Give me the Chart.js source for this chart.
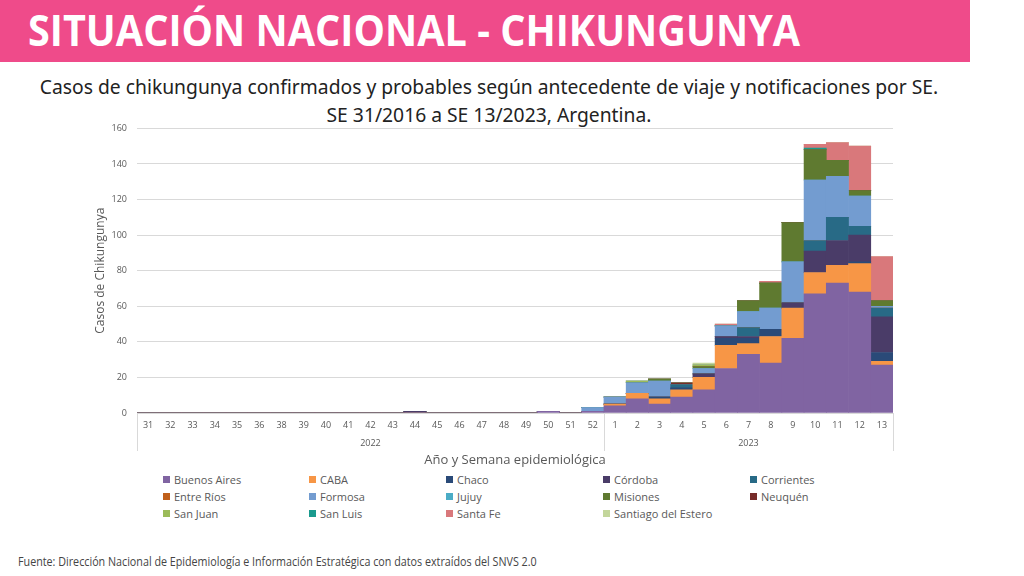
<!DOCTYPE html>
<html>
<head>
<meta charset="utf-8">
<script src="https://cdn.jsdelivr.net/npm/chart.js@4.4.0/dist/chart.umd.min.js"></script>
<style>
    body { margin: 0; width: 1024px; height: 576px; background: #fff; position: relative; overflow: hidden; font-family: "Open Sans", sans-serif; }
    .header { position: absolute; left: 0; top: 0; width: 970px; height: 62px; background: #ef4b8a; }
    .header h1 { margin: 0; position: absolute; left: 28px; top: 4px; color: #fff; font-family: "Open Sans", sans-serif; font-weight: 700; font-size: 43px; line-height: 52px; white-space: nowrap; transform-origin: 0 0; }
    .subtitle { position: absolute; left: 0; top: 73px; width: 978px; text-align: center; font-family: "Noto Sans", sans-serif; font-size: 19.3px; line-height: 28px; color: #222; }
    .chart-box { position: absolute; left: 90px; top: 113px; width: 820px; height: 357px; }
    #legend { position: absolute; left: 163px; top: 472px; display: grid; grid-template-columns: 146px 137px 157px 147px 130px; row-gap: 3px; font-size: 11px; color: #595959; }
    #legend span { display: flex; align-items: center; height: 14px; }
    #legend i { display: inline-block; width: 7px; height: 7px; margin-right: 4px; }
    .footer { position: absolute; left: 18px; top: 553px; font-family: "Open Sans", sans-serif; font-size: 12px; color: #444; white-space: nowrap; transform-origin: 0 0; }
</style>
</head>
<body>
<div class="header"><h1 id="title">SITUACIÓN NACIONAL - CHIKUNGUNYA</h1></div>
<div class="subtitle">Casos de chikungunya confirmados y probables según antecedente de viaje y notificaciones por SE.<br>SE 31/2016 a SE 13/2023, Argentina.</div>
<div class="chart-box"><canvas id="chart"></canvas></div>
<div id="legend"></div>
<div class="footer" id="footer">Fuente: Dirección Nacional de Epidemiología e Información Estratégica con datos extraídos del SNVS 2.0</div>

<script>
// semanas epidemiológicas (2022: 31-52 sin la 37, 2023: 1-13)
var weeks2022 = ["31", "32", "33", "34", "35", "36", "38", "39", "40", "41", "42", "43", "44", "45", "46", "47", "48", "49", "50", "51", "52"];
var weeks2023 = ["1", "2", "3", "4", "5", "6", "7", "8", "9", "10", "11", "12", "13"];
var years = ["2022", "2023"];

// casos por jurisdicción, semana a semana
var buenosAires = [0,0,0,0,0,0,0,0,0,0,0,0,0,0,0,0,0,0,1,0,1, 4,8,5,9,13,25,33,28,42,67,73,68,27];
var caba        = [0,0,0,0,0,0,0,0,0,0,0,0,0,0,0,0,0,0,0,0,0, 1,3,3,4,7,13,6,15,17,12,10,16,2];
var chaco       = [0,0,0,0,0,0,0,0,0,0,0,0,0,0,0,0,0,0,0,0,0, 0,0,1,1,0,4,3,4,0,0,0,1,5];
var cordoba     = [0,0,0,0,0,0,0,0,0,0,0,0,1,0,0,0,0,0,0,0,0, 0,0,0,0,2,1,1,0,3,12,14,15,20];
var corrientes  = [0,0,0,0,0,0,0,0,0,0,0,0,0,0,0,0,0,0,0,0,0, 0,0,0,2,0,0,5,0,0,6,13,5,5];
var entreRios   = [0,0,0,0,0,0,0,0,0,0,0,0,0,0,0,0,0,0,0,0,0, 0,0,0,0,0,0,0,0,0,0,0,0,0];
var formosa     = [0,0,0,0,0,0,0,0,0,0,0,0,0,0,0,0,0,0,0,0,2, 4,6,9,0,3,6,9,12,23,34,23,17,1];
var jujuy       = [0,0,0,0,0,0,0,0,0,0,0,0,0,0,0,0,0,0,0,0,0, 0,0,0,0,0,0,0,0,0,0,0,0,0];
var misiones    = [0,0,0,0,0,0,0,0,0,0,0,0,0,0,0,0,0,0,0,0,0, 0,0,1,0,1,0,6,14,22,17,9,3,3];
var neuquen     = [0,0,0,0,0,0,0,0,0,0,0,0,0,0,0,0,0,0,0,0,0, 0,0,0,1,0,0,0,0,0,0,0,0,0];
var sanJuan     = [0,0,0,0,0,0,0,0,0,0,0,0,0,0,0,0,0,0,0,0,0, 0,1,0,0,1,0,0,0,0,0,0,0,0];
var sanLuis     = [0,0,0,0,0,0,0,0,0,0,0,0,0,0,0,0,0,0,0,0,0, 0,0,0,0,0,0,0,0,0,1,0,0,0];
var santaFe     = [0,0,0,0,0,0,0,0,0,0,0,0,0,0,0,0,0,0,0,0,0, 0,0,0,0,0,1,0,1,0,2,10,25,25];
var santiago    = [0,0,0,0,0,0,0,0,0,0,0,0,0,0,0,0,0,0,0,0,0, 0,0,0,0,1,0,0,0,0,0,0,0,0];

var yTicks = [0, 20, 40, 60, 80, 100, 120, 140, 160];

var labels = weeks2022.concat(weeks2023);

var series = [
    ["Buenos Aires", buenosAires, "#8064a2"],
    ["CABA", caba, "#f79646"],
    ["Chaco", chaco, "#2a4a78"],
    ["Córdoba", cordoba, "#4a3c68"],
    ["Corrientes", corrientes, "#286a86"],
    ["Entre Ríos", entreRios, "#c0601b"],
    ["Formosa", formosa, "#739cd0"],
    ["Jujuy", jujuy, "#4bacc6"],
    ["Misiones", misiones, "#5f7a30"],
    ["Neuquén", neuquen, "#772c2a"],
    ["San Juan", sanJuan, "#9bbb59"],
    ["San Luis", sanLuis, "#1a9a8e"],
    ["Santa Fe", santaFe, "#d9787b"],
    ["Santiago del Estero", santiago, "#c3d69b"]
];

var datasets = series.map(function (s) {
    return { label: s[0], data: s[1], backgroundColor: s[2], borderWidth: 0 };
});

// squeeze a text block to the width it has in the original slide
function fitWidth(id, target) {
    var el = document.getElementById(id);
    el.style.transform = "scaleX(" + (target / el.offsetWidth) + ")";
}
fitWidth("title", 772);
fitWidth("footer", 519);

// year labels and separators below the week ticks
var yearGroups = {
    id: "yearGroups",
    afterDraw: function (chart) {
        var ctx = chart.ctx;
        var x = chart.scales.x;
        var bottom = chart.chartArea.bottom;
        var half = (x.getPixelForValue(1) - x.getPixelForValue(0)) / 2;
        var n1 = weeks2022.length;
        var left = x.getPixelForValue(0) - half;
        var mid = x.getPixelForValue(n1) - half;
        var right = x.getPixelForValue(labels.length - 1) + half;
        ctx.save();
        ctx.strokeStyle = "#d9d9d9";
        ctx.lineWidth = 1;
        [left, mid, right].forEach(function (px) {
            ctx.beginPath();
            ctx.moveTo(Math.round(px) + 0.5, bottom);
            ctx.lineTo(Math.round(px) + 0.5, bottom + 38);
            ctx.stroke();
        });
        ctx.fillStyle = "#595959";
        ctx.font = "9px 'Open Sans'";
        ctx.textAlign = "center";
        ctx.textBaseline = "middle";
        ctx.fillText(years[0], (left + mid) / 2, bottom + 30);
        ctx.fillText(years[1], (mid + right) / 2, bottom + 30);
        ctx.restore();
    }
};

var ctx = document.getElementById("chart").getContext("2d");
var myChart = new Chart(ctx, {
    type: "bar",
    data: { labels: labels, datasets: datasets },
    options: {
        responsive: true,
        maintainAspectRatio: false,
        animation: false,
        layout: { padding: { top: 5, right: 17, bottom: 0, left: 0 } },
        plugins: {
            legend: { display: false },
            tooltip: { enabled: false }
        },
        scales: {
            x: {
                stacked: true,
                grid: { display: false, drawTicks: false },
                border: { display: false },
                afterFit: function (scale) { scale.height = 57; },
                ticks: { color: "#595959", font: { family: "Open Sans", size: 9 }, maxRotation: 0, autoSkip: false, padding: 7 },
                title: { display: true, text: "Año y Semana epidemiológica", color: "#595959", font: { family: "Open Sans", size: 13 }, padding: { top: 0, bottom: 2 } }
            },
            y: {
                stacked: true,
                min: 0,
                max: 160,
                afterBuildTicks: function (scale) {
                    scale.ticks = yTicks.map(function (v) { return { value: v }; });
                },
                afterFit: function (scale) { scale.width = 47; },
                grid: { color: "#d9d9d9", drawTicks: false },
                border: { display: false },
                ticks: { color: "#595959", font: { family: "Open Sans", size: 9 }, padding: 10 },
                title: { display: true, text: "Casos de Chikungunya", color: "#595959", font: { family: "Open Sans", size: 12 }, padding: { top: 3, bottom: 0 } }
            }
        },
        datasets: { bar: { barPercentage: 1, categoryPercentage: 1 } }
    },
    plugins: [yearGroups]
});

// legend grid
var legend = document.getElementById("legend");
series.forEach(function (s) {
    var item = document.createElement("span");
    item.innerHTML = '<i style="background:' + s[2] + '"></i>' + s[0];
    legend.appendChild(item);
});
</script>
</body>
</html>
